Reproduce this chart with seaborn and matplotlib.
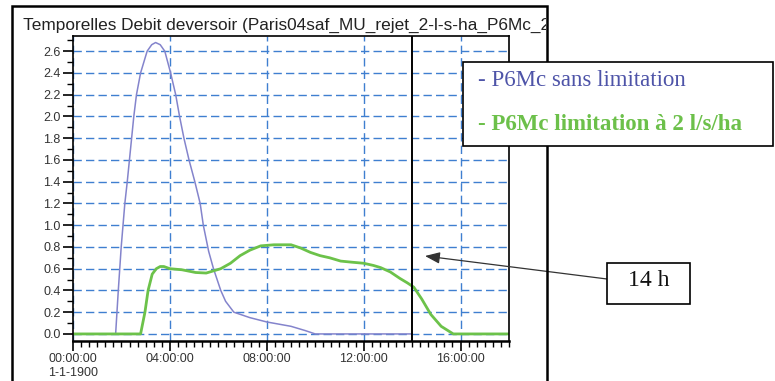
import numpy as np
import pandas as pd
import seaborn as sns
import matplotlib
matplotlib.use("Agg")
import matplotlib.pyplot as plt
from matplotlib.patches import Rectangle
from matplotlib.transforms import Bbox, TransformedBbox
from matplotlib.ticker import MultipleLocator

# valeurs (heures, debit)
h_sans = [0, 1.76, 1.87, 1.99, 2.14, 2.24, 2.33, 2.42, 2.51, 2.62, 2.79, 3.06, 3.25, 3.41,
          3.6, 3.79, 4.03, 4.24, 4.40, 4.58, 4.79, 5.03, 5.25, 5.38, 5.6, 5.8, 6.1, 6.3,
          6.64, 7.3, 8.0, 9.0, 9.6, 10.0, 14.0]
q_sans = [0, 0, 0.4, 0.8, 1.2, 1.4, 1.6, 1.8, 2.0, 2.2, 2.4, 2.6, 2.66, 2.68,
          2.66, 2.6, 2.4, 2.2, 2.0, 1.8, 1.6, 1.4, 1.2, 1.0, 0.76, 0.6, 0.4, 0.3,
          0.2, 0.15, 0.11, 0.07, 0.03, 0.0, 0.0]

h_lim = [0, 2.79, 2.97, 3.1, 3.27, 3.44, 3.6, 3.75, 4.0, 4.5, 5.06, 5.5, 5.8, 6.1, 6.5,
         6.9, 7.3, 7.75, 8.3, 9.0, 9.4, 9.8, 10.2, 10.6, 11.05, 11.5, 12.0, 12.4, 12.7,
         13.1, 13.5, 13.8, 14.07, 14.4, 14.77, 15.2, 15.7, 18.0]
q_lim = [0, 0, 0.2, 0.4, 0.55, 0.6, 0.62, 0.62, 0.6, 0.59, 0.565, 0.56, 0.58, 0.6, 0.65,
         0.72, 0.77, 0.81, 0.82, 0.82, 0.79, 0.75, 0.72, 0.70, 0.67, 0.66, 0.65, 0.63, 0.61,
         0.57, 0.51, 0.47, 0.43, 0.32, 0.18, 0.07, 0.0, 0.0]

x_ticks = [0, 4, 8, 12, 16]
x_labels = ["00:00:00\n1-1-1900", "04:00:00", "08:00:00", "12:00:00", "16:00:00"]
titre = "s Temporelles Debit deversoir (Paris04saf_MU_rejet_2-l-s-ha_P6Mc_2"
leg1 = "- P6Mc sans limitation"
leg2 = "- P6Mc limitation à 2 l/s/ha"
note = "14 h"

df = pd.concat([
    pd.DataFrame({"h": h_sans, "q": q_sans, "serie": "sans"}),
    pd.DataFrame({"h": h_lim, "q": q_lim, "serie": "lim"}),
])

sns.set_style("white")
plt.rcParams['font.family'] = ['Liberation Sans', 'DejaVu Sans']

W, H = 775, 381
fig = plt.figure(figsize=(W / 100, H / 100), dpi=100)
ax = fig.add_axes([73 / W, 1 - 341 / H, 436 / W, 305 / H])

grid_col = "#3f7fd0"
ax.grid(True, color=grid_col, linestyle=(0, (6, 3)), linewidth=1.0)
ax.set_axisbelow(True)

sns.lineplot(data=df[df.serie == "sans"], x="h", y="q", ax=ax, color="#8484cc",
             linewidth=1.1, sort=False, legend=False, estimator=None)
sns.lineplot(data=df[df.serie == "lim"], x="h", y="q", ax=ax, color="#6cc24a",
             linewidth=2.0, sort=False, legend=False, estimator=None)

ax.axvline(14, color="black", linewidth=1.4, zorder=5)

ax.set_xlim(0, 18)
ax.set_ylim(-0.065, 2.74)
ax.set_xticks(x_ticks)
ax.set_xticklabels(x_labels, fontsize=9, color="#333333")
ax.xaxis.set_minor_locator(MultipleLocator(1 / 3))
ax.set_yticks(np.arange(0, 2.61, 0.2))
ax.set_yticklabels([f"{v:.1f}" for v in np.arange(0, 2.61, 0.2)], fontsize=9, color="#333333")
ax.yaxis.set_minor_locator(MultipleLocator(0.1))
ax.tick_params(which="major", direction="out", length=7, width=1.2, color="black", pad=2,
               bottom=True, left=True)
ax.tick_params(which="minor", direction="out", length=4, width=1.0, color="black",
               bottom=True, left=True)
ax.set_xlabel("")
ax.set_ylabel("")
for s in ax.spines.values():
    s.set_color("black")
    s.set_linewidth(1.2)
ax.spines["bottom"].set_linewidth(1.8)

# cadre exterieur
fig.patches.append(Rectangle((12 / W, -0.2), 535 / W, (H - 6) / H + 0.2,
                             transform=fig.transFigure, fill=False, ec="black", lw=1.8))

t = fig.text(10 / W, 1 - 25 / H, titre, fontsize=12.4, color="#222222", va="center", ha="left")
t.set_clip_box(TransformedBbox(Bbox.from_extents(20 / W, 0, 546 / W, 1), fig.transFigure))
t.set_clip_on(True)

# encadre legende
fig.patches.append(Rectangle((463 / W, 1 - 146 / H), 310 / W, 84 / H,
                             transform=fig.transFigure, fc="white", ec="black", lw=1.2,
                             zorder=10))
fig.text(478 / W, 1 - 80 / H, leg1, fontsize=16.5, color="#4e54a8", family="Liberation Serif",
         va="center", ha="left", zorder=11)
fig.text(478 / W, 1 - 124 / H, leg2, fontsize=16.5, color="#6cc04a", family="Liberation Serif",
         fontweight="bold", va="center", ha="left", zorder=11)

# annotation 14 h
fig.patches.append(Rectangle((607 / W, 1 - 304 / H), 83 / W, 41 / H,
                             transform=fig.transFigure, fc="white", ec="black", lw=1.2,
                             zorder=10))
fig.text(649 / W, 1 - 281 / H, note, fontsize=17, color="#111111", family="Liberation Serif",
         va="center", ha="center", zorder=11)
ax.annotate("", xy=(425 / W, 1 - 256 / H), xytext=(607 / W, 1 - 279 / H),
            xycoords="figure fraction", textcoords="figure fraction",
            arrowprops=dict(arrowstyle="-|>,head_length=0.9,head_width=0.35",
                            color="#333333", lw=0.9, shrinkA=0, shrinkB=0),
            annotation_clip=False, zorder=12)

fig.savefig("out.png", dpi=100)
